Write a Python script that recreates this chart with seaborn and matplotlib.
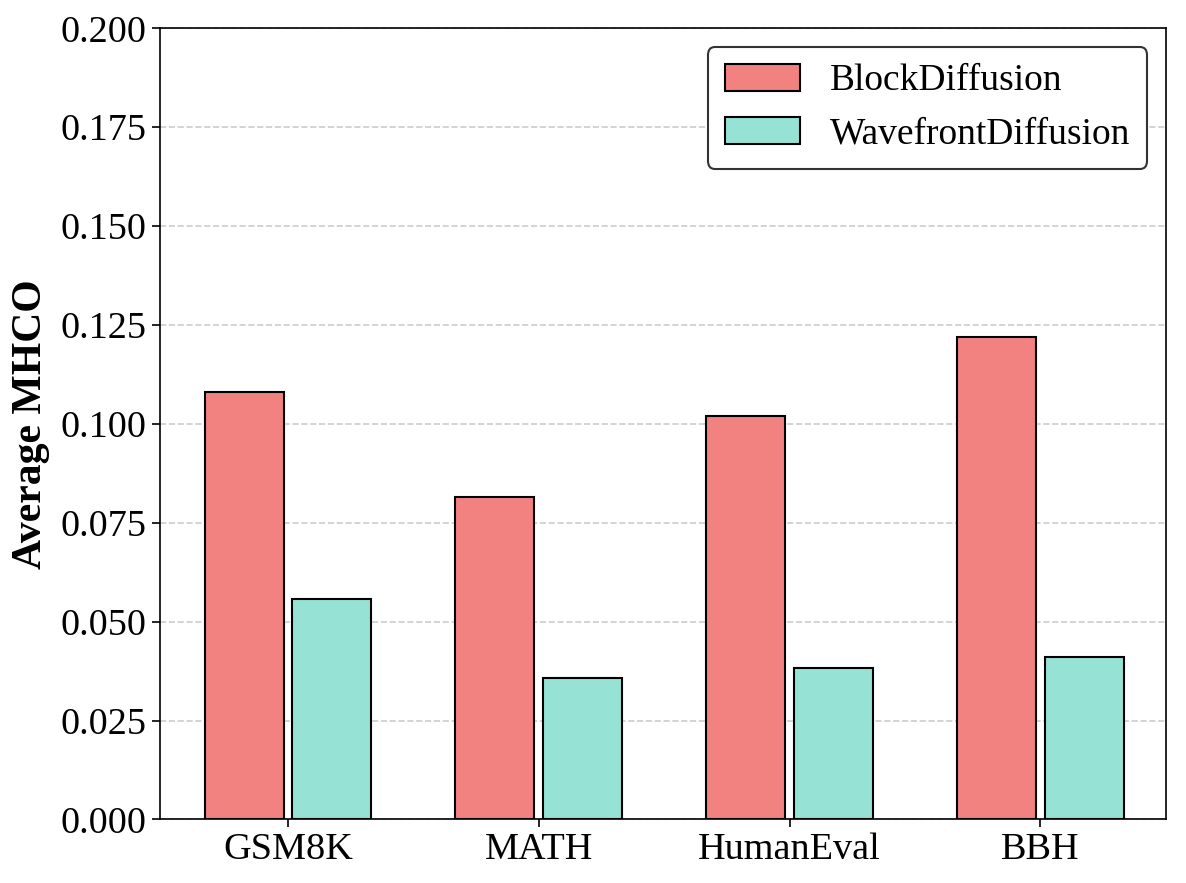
import pandas as pd
import matplotlib.pyplot as plt
import seaborn as sns

# values
datasets = ["GSM8K", "MATH", "HumanEval", "BBH"]
block_diffusion = [0.108, 0.0814, 0.1019, 0.1219]
wavefront_diffusion = [0.0557, 0.0357, 0.0382, 0.0410]
methods = ["BlockDiffusion", "WavefrontDiffusion"]
colors = ["#F28280", "#96E2D5"]

df = pd.DataFrame({
    "Dataset": datasets * 2,
    "Method": [methods[0]] * len(datasets) + [methods[1]] * len(datasets),
    "MHCO": block_diffusion + wavefront_diffusion,
})

sns.set_style("ticks")
plt.rcParams["font.family"] = ["Liberation Serif", "DejaVu Serif"]
plt.rcParams["text.color"] = "black"
plt.rcParams["axes.labelcolor"] = "black"
plt.rcParams["xtick.color"] = "black"
plt.rcParams["ytick.color"] = "black"

fig, ax = plt.subplots(figsize=(11.86, 8.83), dpi=100)
sns.barplot(data=df, x="Dataset", y="MHCO", hue="Method", palette=colors,
            saturation=1, width=0.7, gap=0.1, edgecolor="black", linewidth=1.5,
            errorbar=None, ax=ax, zorder=3)

ax.set_ylim(0, 0.2)
ax.set_xlim(-0.51, 3.5)
ax.set_yticks([0, 0.025, 0.05, 0.075, 0.1, 0.125, 0.15, 0.175, 0.2])
ax.set_yticklabels([f"{v:.3f}" for v in ax.get_yticks()])
ax.yaxis.grid(True, linestyle="--", color="#cccccc", linewidth=1.2, zorder=0)
ax.set_axisbelow(True)
ax.tick_params(axis="both", labelsize=27.5, length=6, width=1.2, color="black")
ax.set_xlabel("")
ax.set_ylabel("Average MHCO", fontsize=30, fontweight="bold", labelpad=8)
for s in ax.spines.values():
    s.set_visible(True)
    s.set_color("black")
    s.set_linewidth(1.2)

leg = ax.legend(loc="upper right", fontsize=27, frameon=True, fancybox=True,
                handlelength=2.0, handleheight=0.72, handletextpad=0.8,
                borderpad=0.45, labelspacing=0.5, borderaxespad=0.5)
leg.get_frame().set_edgecolor("#333333")
leg.get_frame().set_linewidth(1.5)
leg.get_frame().set_alpha(1)

plt.subplots_adjust(left=0.135, right=0.983, top=0.968, bottom=0.072)
plt.savefig("out.png", dpi=100)
